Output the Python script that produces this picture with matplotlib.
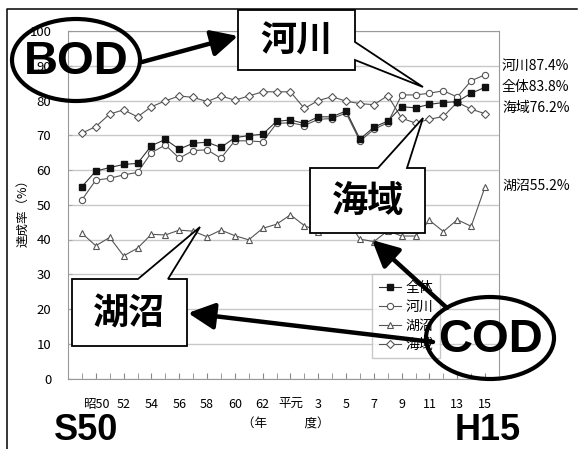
import matplotlib
matplotlib.use('Agg')
import matplotlib.pyplot as plt
from matplotlib.patches import Ellipse, Polygon, FancyArrowPatch

plt.rcParams['font.family'] = ['Noto Sans CJK JP', 'DejaVu Sans']

# 環境基準達成率 (%), 昭和49年度 - 平成15年度
years = list(range(1974, 2004))
tick_pos = list(range(1, 30, 2))
tick_labels = ['昭50', '52', '54', '56', '58', '60', '62', '平元',
               '3', '5', '7', '9', '11', '13', '15']

zentai = [55.2, 59.7, 60.7, 61.6, 61.9, 67.0, 68.8, 66.0, 67.7, 68.0,
          66.5, 69.3, 69.9, 70.3, 74.0, 74.4, 73.4, 75.3, 75.3, 77.0,
          68.9, 72.3, 74.1, 78.2, 77.9, 78.9, 79.4, 79.7, 82.1, 83.8]
kasen = [51.4, 57.1, 57.6, 58.6, 59.3, 65.0, 67.2, 63.4, 65.6, 65.8,
         63.4, 68.4, 68.4, 68.1, 73.4, 73.6, 72.8, 74.6, 74.8, 76.4,
         68.3, 71.7, 73.6, 81.6, 81.6, 82.1, 82.8, 81.0, 85.7, 87.4]
koshou = [41.8, 38.2, 40.6, 35.3, 37.5, 41.5, 41.3, 42.7, 42.4, 40.8,
          42.7, 41.1, 39.9, 43.2, 44.4, 47.1, 44.0, 42.3, 44.2, 46.1,
          40.1, 39.4, 42.5, 41.0, 41.0, 45.5, 42.3, 45.7, 43.8, 55.2]
kaiiki = [70.6, 72.5, 76.1, 77.3, 75.3, 78.2, 79.9, 81.3, 80.9, 79.7,
          81.3, 80.1, 81.3, 82.5, 82.5, 82.5, 77.7, 80.0, 81.1, 79.8,
          79.1, 78.8, 81.4, 74.9, 73.5, 74.6, 75.4, 79.5, 77.5, 76.2]

end_labels = ['河川87.4%', '全体83.8%', '海域76.2%', '湖沼55.2%']

W, H = 579, 449
fig = plt.figure(figsize=(W / 100, H / 100), dpi=100)
ax = fig.add_axes([68 / W, 1 - 378.5 / H, (499 - 68) / W, (378.5 - 31) / H])

idx = list(range(len(years)))
lc = '#555555'
ax.plot(idx, kaiiki, color=lc, lw=0.8, marker='D', ms=3.8, mfc='white', mec=lc, mew=0.8, label='海域')
ax.plot(idx, koshou, color=lc, lw=0.8, marker='^', ms=5, mfc='white', mec=lc, mew=0.8, label='湖沼')
ax.plot(idx, kasen, color=lc, lw=0.8, marker='o', ms=4.5, mfc='white', mec=lc, mew=0.8, label='河川')
ax.plot(idx, zentai, color='#333333', lw=0.8, marker='s', ms=4.5, mfc='#111111', mec='#111111', label='全体')

ax.set_xlim(-1, 30)
ax.set_ylim(0, 100)
ax.set_yticks(range(0, 101, 10))
ax.yaxis.grid(True, color='#c8c8c8', lw=1)
ax.set_axisbelow(True)
ax.set_xticks(tick_pos)
ax.set_xticklabels(tick_labels)
ax.set_xticks(idx, minor=True)
ax.tick_params(axis='x', which='both', direction='in', length=4, color='#888888',
               labelsize=9, pad=14)
ax.tick_params(axis='y', direction='in', length=3, color='#aaaaaa', labelsize=9.5, pad=12)
for s in ax.spines.values():
    s.set_color('#999999')
ax.set_ylabel('達成率（%）', fontsize=9)
ax.yaxis.set_label_coords(-0.09, 0.485)

# legend in the order of the original
h, l = ax.get_legend_handles_labels()
order = [3, 2, 1, 0]
ax.legend([h[i] for i in order], [l[i] for i in order], loc='upper left',
          bbox_to_anchor=(365 / W, 1 - 267 / H), bbox_transform=fig.transFigure,
          fontsize=10, frameon=True, fancybox=False, edgecolor='#bbbbbb',
          handlelength=1.6, labelspacing=0.35, borderpad=0.5, handletextpad=0.3)

# overlay in pixel coords for the callouts
ov = fig.add_axes([0, 0, 1, 1])
ov.set_xlim(0, W)
ov.set_ylim(H, 0)
ov.axis('off')
ov.patch.set_alpha(0)

ov.plot([7, 7, 577], [449, 9, 9], color='k', lw=1.1)

for lab, yy in zip(end_labels, [66, 87, 108, 186]):
    ov.text(502, yy, lab, fontsize=10, va='center', ha='left')

ov.text(286, 424, '（年　　　度）', fontsize=9, ha='center', va='center')
ov.text(86, 430, 'S50', family='Liberation Sans', weight='bold', fontsize=26, ha='center', va='center')
ov.text(488, 430, 'H15', family='Liberation Sans', weight='bold', fontsize=26, ha='center', va='center')

# speech-bubble boxes
boxes = [
    ('河川', [(238, 10), (355, 10), (355, 42), (423, 87), (355, 60), (355, 70), (238, 70)], (296, 41)),
    ('海域', [(310, 168), (378, 168), (423, 118), (407, 168), (425, 168), (425, 233), (310, 233)], (368, 202)),
    ('湖沼', [(72, 279), (138, 279), (200, 227), (168, 279), (187, 279), (187, 346), (72, 346)], (129, 314)),
]
for txt, pts, c in boxes:
    ov.add_patch(Polygon(pts, closed=True, fc='white', ec='k', lw=1.3, zorder=5))
    ov.text(c[0], c[1], txt, fontsize=26, weight='bold', ha='center', va='center', zorder=6)

# BOD / COD ellipses
for txt, c in [('BOD', (76, 60)), ('COD', (490, 338))]:
    ov.add_patch(Ellipse(c, 128, 82, fc='none', ec='k', lw=3, zorder=7))
    ov.text(c[0], c[1] + 2, txt, family='Liberation Sans', weight='bold', fontsize=34,
            ha='center', va='center', zorder=8)

# arrows
for tail, tip in [((142, 62), (238, 36)), ((447, 308), (372, 240)), ((433, 342), (188, 313))]:
    ov.add_patch(FancyArrowPatch(tail, tip, arrowstyle='-|>,head_length=1.6,head_width=0.8',
                                 mutation_scale=10, lw=3.2, color='k', shrinkA=0, shrinkB=0, zorder=9))

fig.savefig('out.png', dpi=100)
